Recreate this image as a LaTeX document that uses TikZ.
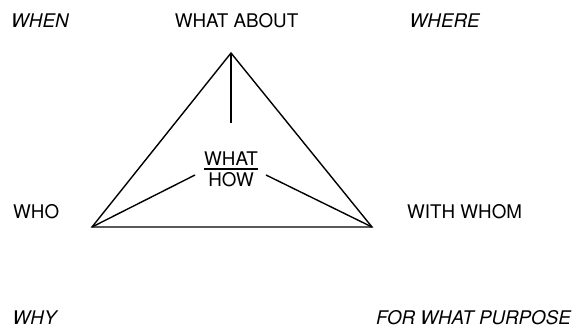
\documentclass[tikz,border=0pt]{standalone}
\usepackage{fontspec}
\setmainfont{TeX Gyre Heros}
\usetikzlibrary{positioning}

\begin{document}
\begin{tikzpicture}[x=1pt, y=-1pt, line width=1.4pt,
		lbl/.style={font=\fontsize{18.8}{22}\selectfont, inner sep=0pt, anchor=base west},
		ilbl/.style={lbl, font=\fontsize{18.8}{22}\selectfont\itshape}]
	\useasboundingbox (0,0) rectangle (575,327);
	% triangle and its three spokes
	\coordinate (apex) at (231,53);
	\coordinate (left) at (92,227);
	\coordinate (right) at (372,227);
	\coordinate (stem) at (231,123);
	\coordinate (lspoke) at (195,175);
	\coordinate (rspoke) at (266,175);
	\draw[line join=miter] (apex) -- (left) -- (right) -- cycle;
	\draw (apex) -- (stem);
	\draw (left) -- (lspoke);
	\draw (right) -- (rspoke);
	% centre
	\node[lbl, anchor=base] (what) at (231,165) {WHAT};
	\node[lbl, anchor=base] (how) at (231,186.5) {HOW};
	\draw[line width=2pt] ([yshift=-4.3pt]what.base west) -- ([yshift=-4.3pt]what.base east);
	% questions round the triangle
	\node[ilbl] (when) at (10.5,27.3) {WHEN};
	\node[lbl, anchor=base] (about) at (236.5,27.3) {WHAT ABOUT};
	\node[ilbl] (where) at (409,27.3) {WHERE};
	\node[lbl] (who) at (12.5,218.7) {WHO};
	\node[lbl] (whom) at (406.5,218.7) {WITH WHOM};
	\node[ilbl] (why) at (12,324) {WHY};
	\node[ilbl, anchor=base] (purpose) at (473.5,324) {FOR WHAT PURPOSE};
\end{tikzpicture}
\end{document}
